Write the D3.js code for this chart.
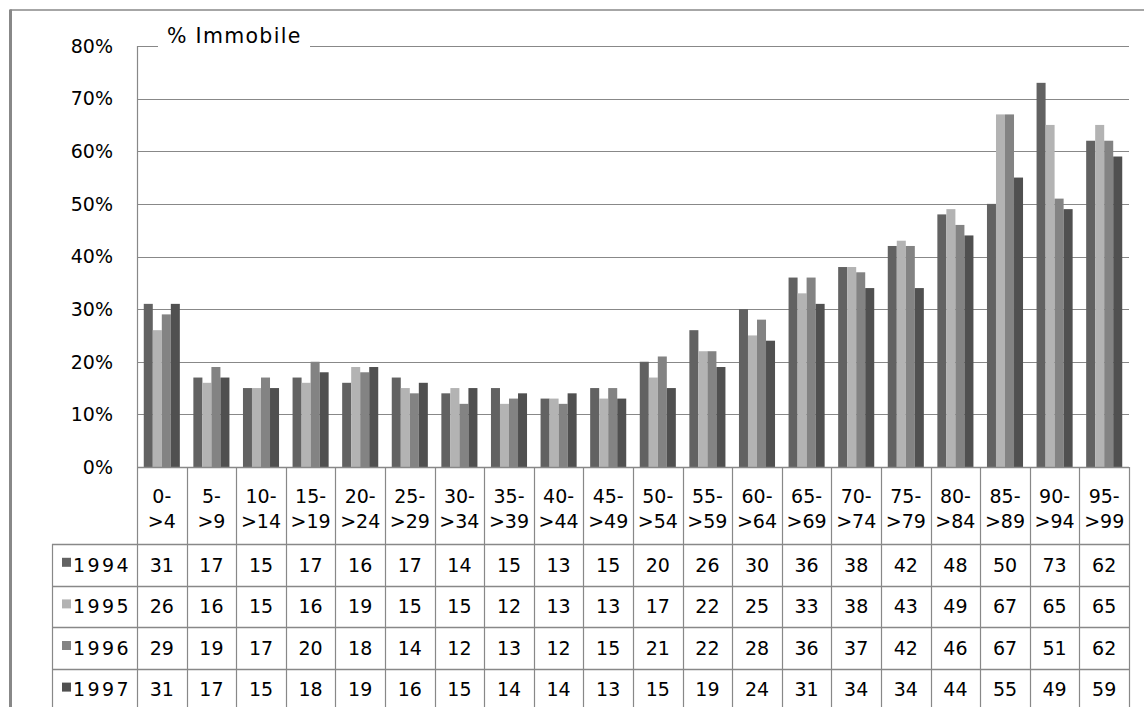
<!DOCTYPE html>
<html>
<head>
<meta charset="utf-8">
<script src="https://cdn.jsdelivr.net/npm/d3@7"></script>
<style>
  html, body { margin: 0; padding: 0; background: #ffffff; }
  svg { display: block; }
  text { font-family: "DejaVu Sans", sans-serif; fill: #000; }
</style>
</head>
<body>
<svg id="chart" width="1144" height="707"></svg>
<script>
const categories = ["0->4","5->9","10->14","15->19","20->24","25->29","30->34","35->39","40->44","45->49",
                    "50->54","55->59","60->64","65->69","70->74","75->79","80->84","85->89","90->94","95->99"];
const seriesNames = ["1994","1995","1996","1997"];
const values1994 = [31,17,15,17,16,17,14,15,13,15,20,26,30,36,38,42,48,50,73,62];
const values1995 = [26,16,15,16,19,15,15,12,13,13,17,22,25,33,38,43,49,67,65,65];
const values1996 = [29,19,17,20,18,14,12,13,12,15,21,22,28,36,37,42,46,67,51,62];
const values1997 = [31,17,15,18,19,16,15,14,14,13,15,19,24,31,34,34,44,55,49,59];
const yTicks = [0,10,20,30,40,50,60,70,80];
const titleText = "% Immobile";
const seriesColors = ["#626262","#b3b3b3","#838383","#505050"];

const series = [values1994, values1995, values1996, values1997];

const svg = d3.select("#chart");
const W = 1144, H = 707;
const plotL = 137, plotR = 1129, plotT = 46, plotB = 467;
const legendL = 52;
const tableTop = 544, rowH = 41.6;
const lineColor = "#888888";

const x = d3.scaleBand().domain(categories).range([plotL, plotR]).padding(0);
const y = d3.scaleLinear().domain([0, 80]).range([plotB, plotT]);
const bw = x.bandwidth();
const barW = bw / 5.5;
const x1 = d3.scaleBand().domain(seriesNames).range([(bw - 4 * barW) / 2, (bw + 4 * barW) / 2]).padding(0);

// outer frame
svg.append("line").attr("x1", 10).attr("x2", W).attr("y1", 10).attr("y2", 10)
  .attr("stroke", lineColor).attr("stroke-width", 1.5);
svg.append("line").attr("x1", 10.5).attr("x2", 10.5).attr("y1", 9.5).attr("y2", H)
  .attr("stroke", lineColor).attr("stroke-width", 3);

// gridlines
svg.append("g").selectAll("line").data(yTicks.filter(t => t > 0)).join("line")
  .attr("x1", plotL).attr("x2", plotR)
  .attr("y1", d => Math.round(y(d)) + 0.5).attr("y2", d => Math.round(y(d)) + 0.5)
  .attr("stroke", lineColor).attr("stroke-width", 1.2);

// title with white knock-out
svg.append("rect").attr("x", 158).attr("y", 38).attr("width", 152).attr("height", 14).attr("fill", "#fff");
svg.append("text").attr("x", 167).attr("y", 43)
  .attr("font-size", 20.5).attr("letter-spacing", "1.3px").text(titleText);

// y labels
svg.append("g").selectAll("text").data(yTicks).join("text")
  .attr("x", 113).attr("y", d => y(d)).attr("dy", "0.36em")
  .attr("text-anchor", "end").attr("font-size", 19)
  .text(d => d + "%");

// bars
const groups = svg.append("g").selectAll("g").data(categories).join("g")
  .attr("transform", d => `translate(${x(d)},0)`);
groups.selectAll("rect").data((c, ci) => seriesNames.map((s, si) => ({s, si, v: series[si][ci]}))).join("rect")
  .attr("x", d => x1(d.s)).attr("width", x1.bandwidth())
  .attr("y", d => y(d.v)).attr("height", d => y(0) - y(d.v))
  .attr("fill", d => seriesColors[d.si]);

// axis / table lines
const tableBottom = H;
svg.append("line").attr("x1", plotL).attr("x2", plotR).attr("y1", plotB + 0.5).attr("y2", plotB + 0.5)
  .attr("stroke", lineColor).attr("stroke-width", 1.5);
svg.append("line").attr("x1", plotL + 0.5).attr("x2", plotL + 0.5).attr("y1", plotT).attr("y2", tableBottom)
  .attr("stroke", lineColor).attr("stroke-width", 1.2);
svg.append("line").attr("x1", plotR + 0.5).attr("x2", plotR + 0.5).attr("y1", plotB).attr("y2", tableBottom)
  .attr("stroke", lineColor).attr("stroke-width", 1.2);
svg.append("line").attr("x1", legendL + 0.5).attr("x2", legendL + 0.5).attr("y1", tableTop).attr("y2", tableBottom)
  .attr("stroke", lineColor).attr("stroke-width", 1.2);
svg.append("g").selectAll("line").data(categories.slice(1)).join("line")
  .attr("x1", d => Math.round(x(d)) + 0.5).attr("x2", d => Math.round(x(d)) + 0.5)
  .attr("y1", plotB).attr("y2", tableBottom)
  .attr("stroke", lineColor).attr("stroke-width", 1.2);
svg.append("g").selectAll("line").data(seriesNames).join("line")
  .attr("x1", legendL).attr("x2", plotR)
  .attr("y1", (d, i) => Math.round(tableTop + i * rowH) + 0.5)
  .attr("y2", (d, i) => Math.round(tableTop + i * rowH) + 0.5)
  .attr("stroke", lineColor).attr("stroke-width", 1.5);

// category labels (two lines)
const catG = svg.append("g").selectAll("text").data(categories).join("text")
  .attr("text-anchor", "middle").attr("font-size", 19);
catG.each(function(d) {
  const idx = d.indexOf("-");
  const t = d3.select(this);
  const cx = x(d) + bw / 2;
  t.append("tspan").attr("x", cx).attr("y", 503).text(d.slice(0, idx + 1));
  t.append("tspan").attr("x", cx).attr("y", 528).text(d.slice(idx + 1));
});

// data table
const rows = svg.append("g").selectAll("g").data(seriesNames).join("g")
  .attr("transform", (d, i) => `translate(0,${tableTop + i * rowH + rowH / 2})`);
rows.append("rect").attr("x", 62).attr("y", -7).attr("width", 9).attr("height", 9)
  .attr("fill", (d, i) => seriesColors[i]);
rows.append("text").attr("x", 73).attr("y", 0).attr("dy", "0.36em")
  .attr("font-size", 19).attr("letter-spacing", "2.4px").text(d => d);
rows.each(function(s, si) {
  d3.select(this).selectAll("text.val").data(series[si]).join("text")
    .attr("class", "val")
    .attr("x", (v, ci) => x(categories[ci]) + bw / 2)
    .attr("y", 0).attr("dy", "0.36em")
    .attr("text-anchor", "middle").attr("font-size", 19)
    .text(v => Math.round(v));
});
</script>
</body>
</html>
